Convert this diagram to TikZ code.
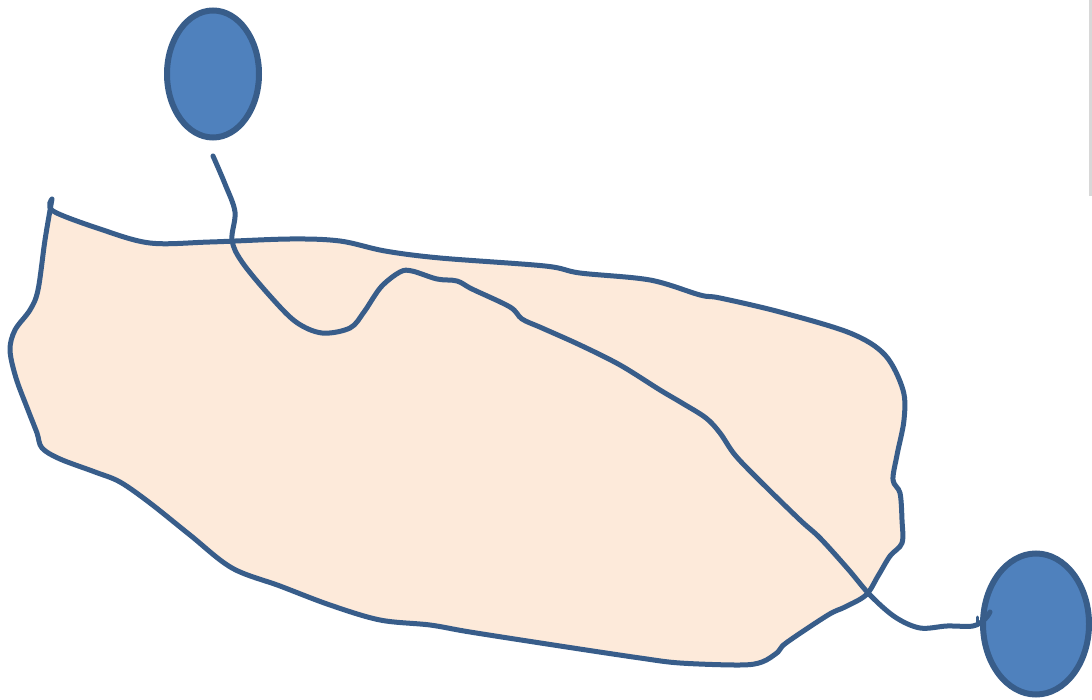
\documentclass[tikz,border=0pt]{standalone}
\usetikzlibrary{shapes.geometric}
\definecolor{blobfill}{RGB}{253,234,218}
\definecolor{edge}{RGB}{56,93,138}
\definecolor{ballfill}{RGB}{79,129,189}
\definecolor{rule}{RGB}{216,216,216}
\begin{document}
\begin{tikzpicture}[x=1pt,y=-1pt,
  outline/.style={draw=edge,line width=5pt,line cap=round,line join=round},
  ball/.style={ellipse,draw=edge,fill=ballfill,line width=6pt,inner sep=0pt,outer sep=0pt}]
\useasboundingbox (0,0) rectangle (1092,700);
\begin{scope}
\clip (0,0) rectangle (1092,700);
% edge rule at the right
\fill[rule] (1089,0) rectangle (1092,196);
% the blob
\path[outline,fill=blobfill] plot[smooth,tension=0.55] coordinates {
 (52,199) (53,211) (100,229) (150,243) (210,242) (290,239) (340,241) (385,251)
 (440,258) (545,266) (580,273) (650,280) (700,295) (720,298) (780,312) (850,333)
 (885,355) (903,390) (904,420) (897,455) (893,480) (900,493) (902,520) (902,543)
 (890,556) (878,576) (866,595) (845,607) (828,615) (786,643) (778,652) (762,662)
 (740,665) (680,663) (640,658) (560,646) (470,632) (430,625) (380,620) (330,605)
 (280,586) (232,568) (190,535) (150,503) (120,482) (95,472) (60,459) (42,448)
 (37,433) (28,410) (16,378) (10,350) (15,330) (30,310) (38,290) (45,240) (52,199)};
% the two balls
\node[ball,minimum width=92pt,minimum height=127pt] (top) at (213,74) {};
\node[ball,minimum width=106pt,minimum height=141pt] (bottom) at (1036,624) {};
\coordinate (start) at (213,156);
\coordinate (finish) at (990,612);
% the wandering line
\draw[outline] plot[smooth,tension=0.55] coordinates {
 (start) (225,184) (235,212) (232,240) (242,262) (270,296) (296,322) (322,333)
 (350,328) (364,312) (381,287) (400,272) (412,271) (437,279) (457,281) (472,289)
 (510,307) (522,319) (542,328) (580,345) (620,365) (660,390) (682,403) (706,418)
 (720,433) (735,455) (760,481) (800,520) (820,538) (848,569) (870,595) (895,617)
 (920,628) (947,626) (973,626) (985,619) (finish)};
\draw[outline,line width=3pt] (977,617) -- (977,622);
\end{scope}
\end{tikzpicture}
\end{document}
